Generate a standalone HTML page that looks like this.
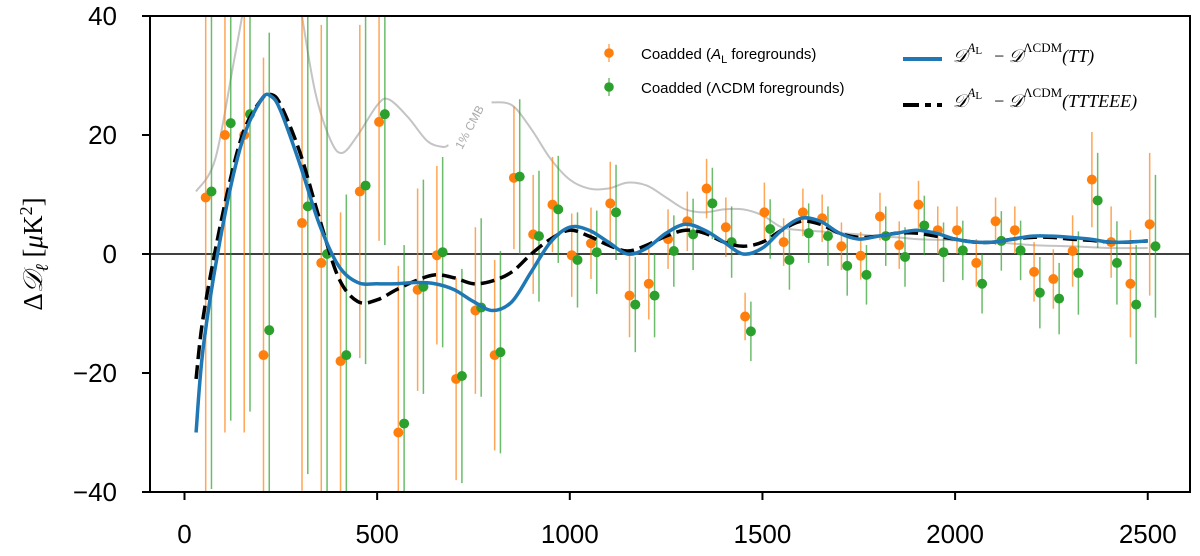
<!DOCTYPE html>
<html><head><meta charset="utf-8"><style>
html,body{margin:0;padding:0;background:#fff;width:1200px;height:556px;overflow:hidden}
svg{display:block;font-family:"Liberation Sans",sans-serif}
</style></head><body>
<svg id="chart" width="1200" height="556" viewBox="0 0 1200 556">
<defs><clipPath id="plotclip"><rect x="150" y="16" width="1040" height="476"/></clipPath></defs>
<g id="grayg" clip-path="url(#plotclip)"></g>
<text x="0" y="0" transform="translate(462,150) rotate(-62)" font-size="12" fill="#aaa">1% CMB</text>
<line id="zeroline" x1="150" x2="1190" stroke="#000" stroke-width="1.5"/>
<g id="errg" clip-path="url(#plotclip)"></g>
<g id="ptg" clip-path="url(#plotclip)"></g>
<g id="curveg" clip-path="url(#plotclip)"></g>
<rect x="150" y="16" width="1040" height="476" fill="none" stroke="#000" stroke-width="2"/>
<g id="axisg"></g>
<text transform="translate(42,254) rotate(-90)" text-anchor="middle" font-size="27" font-family="'Liberation Serif',serif">Δ<tspan font-style="italic">𝒟</tspan><tspan font-size="18" dy="6" font-style="italic">ℓ</tspan><tspan dy="-6"> [</tspan><tspan font-style="italic">μ</tspan>K<tspan font-size="18" dy="-10">2</tspan><tspan dy="10">]</tspan></text>
<g>
<g>
<line x1="609" x2="609" y1="44" y2="62" stroke="#ff7f0e" stroke-width="1"/><circle cx="609" cy="53" r="4.8" fill="#ff7f0e"/>
<text x="641" y="59" font-size="15">Coadded (<tspan font-style="italic">A</tspan><tspan font-size="11" dy="4">L</tspan><tspan dy="-4"> foregrounds)</tspan></text></g>
<g>
<line x1="609" x2="609" y1="78" y2="96" stroke="#2ca02c" stroke-width="1"/><circle cx="609" cy="87" r="4.8" fill="#2ca02c"/>
<text x="641" y="93" font-size="15">Coadded (ΛCDM foregrounds)</text></g>
<g>
<line x1="903" x2="942" y1="59" y2="59" stroke="#1f77b4" stroke-width="4"/>
<text x="953" y="62" font-size="18" font-family="'Liberation Serif',serif"><tspan font-style="italic">𝒟</tspan><tspan font-size="13" dy="-10" font-style="italic">A</tspan><tspan font-size="11" dy="2">L</tspan><tspan dx="12" dy="8">− </tspan><tspan font-style="italic">𝒟</tspan><tspan font-size="13" dy="-10">ΛCDM</tspan><tspan dy="10" font-style="italic">(TT)</tspan></text></g>
<g>
<line x1="903" x2="942" y1="105" y2="105" stroke="#000" stroke-width="4" stroke-dasharray="16,6,6,6"/>
<text x="953" y="107" font-size="18" font-family="'Liberation Serif',serif"><tspan font-style="italic">𝒟</tspan><tspan font-size="13" dy="-10" font-style="italic">A</tspan><tspan font-size="11" dy="2">L</tspan><tspan dx="12" dy="8">− </tspan><tspan font-style="italic">𝒟</tspan><tspan font-size="13" dy="-10">ΛCDM</tspan><tspan dy="10" font-style="italic">(TTTEEE)</tspan></text></g>
</g>
</svg>
<script>
const ells=[55,105,155,205,305,355,405,455,505,555,605,655,705,755,805,855,905,955,1005,1055,1105,1155,1205,1255,1305,1355,1405,1455,1505,1555,1605,1655,1705,1755,1805,1855,1905,1955,2005,2055,2105,2155,2205,2255,2305,2355,2405,2455,2505];
const orangeVals=[9.5,20,20,-17,5.2,-1.5,-18,10.5,22.2,-30,-6,-0.2,-21,-9.5,-17,12.8,3.3,8.3,-0.2,1.8,8.5,-7,-5,2.5,5.5,11,4.5,-10.5,7,2,7,6,1.3,-0.3,6.3,1.5,8.3,4,4,-1.5,5.5,4,-3,-4.2,0.5,12.5,2,-5,5];
const orangeErr=[50,50,50,50,45,40,25,28,20,28,17,15,17,14,16,12,10,8,7,6,7,7,6,5,5,5,5,4,5,4,4,4,4,4,4,4,4,4,4,4,4,4,5,5,6,8,6,9,12];
const greenVals=[10.5,22,23.5,-12.8,8,0,-17,11.5,23.5,-28.5,-5.5,0.3,-20.5,-9,-16.5,13,3,7.5,-1,0.3,7,-8.5,-7,0.5,3.3,8.5,2,-13,4.2,-1,3.5,3,-2,-3.5,3,-0.5,4.8,0.3,0.6,-5,2.2,0.6,-6.5,-7.5,-3.2,9,-1.5,-8.5,1.3];
const greenErr=[50,50,50,50,45,42,27,30,22,30,18,16,18,15,17,13,11,9,8,7,8,8,7,6,6,6,6,5,5,5,5,5,5,5,5,5,5,5,5,5,5,5,6,6,7,8,7,10,12];
const curveEll=[30,50,100,150,200,225,250,300,350,400,450,500,550,600,650,700,750,800,850,900,950,1000,1050,1100,1150,1200,1250,1300,1350,1400,1450,1500,1550,1600,1650,1700,1750,1800,1850,1900,1950,2000,2050,2100,2150,2200,2250,2300,2350,2400,2450,2500];
const ttVals=[-30,-15,5,19,26,26.5,24,15,5,-2,-4.8,-5,-5,-4.8,-5,-6,-8,-9.5,-8,-3,2,4.5,4,2,0,1,3.5,5,4,2,0,1,4,6,5.5,3.5,2.5,3,3.5,4,3.5,2.5,2,2,2.5,3,3,2.8,2.5,2,2,2.2];
const ttteeeVals=[-21,-10,7,20,26,26.8,25,17,6,-4,-8,-7.7,-6,-4.5,-3.5,-4,-5,-4.5,-3,0,2.5,4,3,1.5,0.5,1.5,3,4,3.5,2,1.3,2,4,5.5,5,3.5,2.8,3,3.5,3.5,3,2.5,2,2,2.5,2.8,2.8,2.5,2.3,2,2,2.2];
const cmbEllA=[30,80,130,180,230,270,305,340,380,410,450,500,530,580,630,670,685];
const cmbValsA=[10.5,16,33,50,60,55,40,27,19,17,20,25,26,23,19,18,18.3];
const cmbEllB=[797,850,900,950,1000,1050,1100,1150,1200,1250,1300,1350,1400,1450,1500,1550,1600,1650,1700,1750,1800,1850,1900,1950,2000,2100,2200,2300,2400,2500];
const cmbValsB=[25.5,25,21,16,12.5,11,11,12,11.5,9.5,7.5,7,7.5,7.5,6.5,4.5,4,3.8,3.5,3.3,3,2.8,2.5,2.4,2.3,2,1.5,1.3,1,1];
const xTicks=[0,500,1000,1500,2000,2500];
const yTicks=[-40,-20,0,20,40];
const NS="http://www.w3.org/2000/svg";
const X=v=>184.5+v*0.3853;
const Y=v=>254-v*5.95;
const CY=v=>Math.max(16,Math.min(492,Y(v)));
function mk(tag,attrs,parent){const e=document.createElementNS(NS,tag);for(const k in attrs)e.setAttribute(k,attrs[k]);parent.appendChild(e);return e;}
function smooth(xs,ys){const p=xs.map((x,i)=>[X(x),Y(ys[i])]);let d=`M${p[0][0]},${p[0][1]}`;
for(let i=0;i<p.length-1;i++){const p0=p[i-1]||p[i],p1=p[i],p2=p[i+1],p3=p[i+2]||p2;
d+=` C${p1[0]+(p2[0]-p0[0])/6},${p1[1]+(p2[1]-p0[1])/6} ${p2[0]-(p3[0]-p1[0])/6},${p2[1]-(p3[1]-p1[1])/6} ${p2[0]},${p2[1]}`;}return d;}
document.getElementById('zeroline').setAttribute('y1',Y(0));
document.getElementById('zeroline').setAttribute('y2',Y(0));
const gg=document.getElementById('grayg');
let g1=mk('path',{d:smooth(cmbEllA,cmbValsA),fill:'none',stroke:'#c4c4c4','stroke-width':2},gg);


let g2=mk('path',{d:smooth(cmbEllB,cmbValsB),fill:'none',stroke:'#c4c4c4','stroke-width':2},gg);


const eg=document.getElementById('errg'),pg=document.getElementById('ptg');
ells.forEach((l,i)=>{
 const o=mk('line',{x1:X(l),x2:X(l),y1:CY(orangeVals[i]+orangeErr[i]),y2:CY(orangeVals[i]-orangeErr[i]),stroke:'#ff7f0e','stroke-opacity':0.7,'stroke-width':1.5},eg);
 
 
 const gl=l+15;
 const g=mk('line',{x1:X(gl),x2:X(gl),y1:CY(greenVals[i]+greenErr[i]),y2:CY(greenVals[i]-greenErr[i]),stroke:'#2ca02c','stroke-opacity':0.7,'stroke-width':1.5},eg);
 
 
});
ells.forEach((l,i)=>{
 const o=mk('circle',{cx:X(l),cy:Y(orangeVals[i]),r:5,fill:'#ff7f0e'},pg);
 
 
 const g=mk('circle',{cx:X(l+15),cy:Y(greenVals[i]),r:5,fill:'#2ca02c'},pg);
 
 
});
const cg=document.getElementById('curveg');
const dl=mk('path',{d:smooth(curveEll,ttteeeVals),fill:'none',stroke:'#000','stroke-width':3.5,'stroke-dasharray':'14,6'},cg);


const bl=mk('path',{d:smooth(curveEll,ttVals),fill:'none',stroke:'#1f77b4','stroke-width':3.5},cg);


const ag=document.getElementById('axisg');
xTicks.forEach(t=>{
 const l=mk('line',{x1:X(t),x2:X(t),y1:492,y2:500,stroke:'#000','stroke-width':2},ag);
 
 
 const tx=mk('text',{x:X(t),y:543,'text-anchor':'middle','font-size':26},ag);tx.textContent=t;
 
 
});
yTicks.forEach(t=>{
 const l=mk('line',{x1:142,x2:150,y1:Y(t),y2:Y(t),stroke:'#000','stroke-width':2},ag);
 
 
 const tx=mk('text',{x:117,y:Y(t)+9,'text-anchor':'end','font-size':26},ag);tx.textContent=(t<0?'−':'')+Math.abs(t);
 
 
});
</script>
</body></html>
